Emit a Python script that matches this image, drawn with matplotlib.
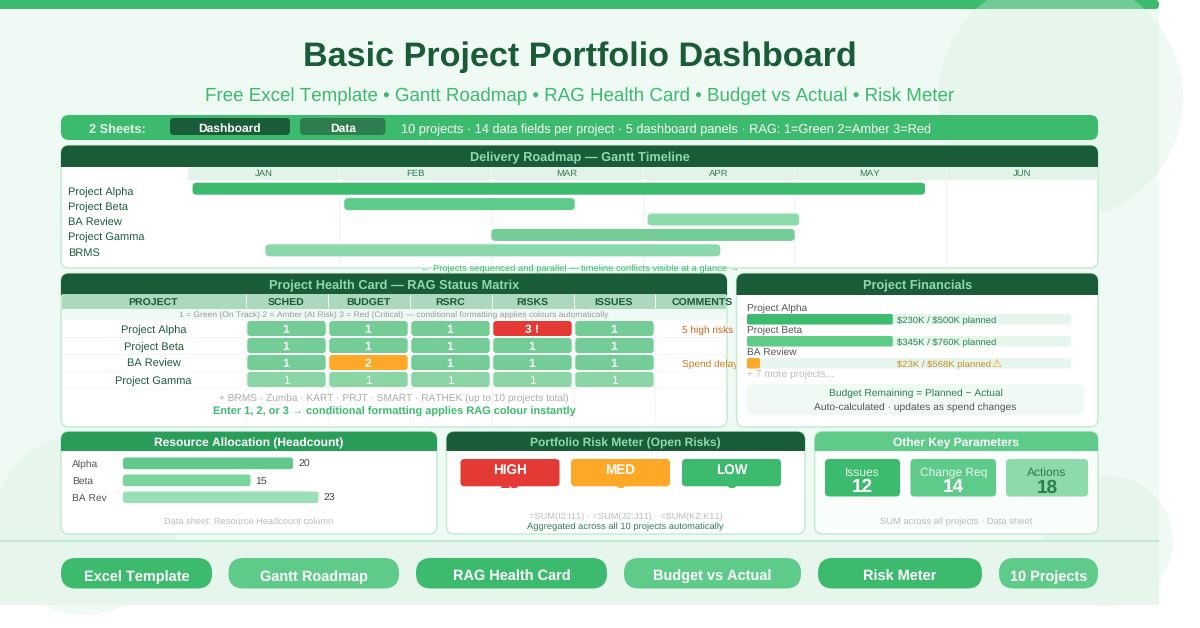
import matplotlib
matplotlib.use("Agg")
import matplotlib.pyplot as plt
from matplotlib.patches import FancyBboxPatch, Rectangle, Circle

# ---------- data ----------
months = ["JAN", "FEB", "MAR", "APR", "MAY", "JUN"]
gantt_projects = ["Project Alpha", "Project Beta", "BA Review", "Project Gamma", "BRMS"]
gantt_start = [0.03, 1.03, 3.03, 2.0, 0.51]
gantt_end = [4.86, 2.55, 4.03, 4.0, 3.51]

health_columns = ["PROJECT", "SCHED", "BUDGET", "RSRC", "RISKS", "ISSUES", "COMMENTS"]
health_projects = ["Project Alpha", "Project Beta", "BA Review", "Project Gamma"]
health_sched = [1, 1, 1, 1]
health_budget = [1, 1, 2, 1]
health_rsrc = [1, 1, 1, 1]
health_risks = [3, 1, 1, 1]
health_issues = [1, 1, 1, 1]
health_comments = ["5 high risks", "", "Spend delay", ""]

fin_projects = ["Project Alpha", "Project Beta", "BA Review"]
fin_spent_pct = [45, 45, 4]
fin_labels = ["$230K / $500K planned", "$345K / $760K planned", "$23K / $568K planned"]

res_names = ["Alpha", "Beta", "BA Rev"]
res_counts = [20, 15, 23]

risk_names = ["HIGH", "MED", "LOW"]
risk_counts = [18, 8, 3]

param_names = ["Issues", "Change Req", "Actions"]
param_values = [12, 14, 18]

tags = ["Excel Template", "Gantt Roadmap", "RAG Health Card", "Budget vs Actual", "Risk Meter", "10 Projects"]

# ---------- palette ----------
G = "#3cba6d"; G2 = "#5ecb8a"; G3 = "#8ddbab"; DK = "#1a5c38"; MID = "#2d7d4e"
PALE = "#e6f6ec"; BG = "#f0faf4"; BORDER = "#bfead0"; AMBER = "#ffa726"; RED = "#e53935"
plt.rcParams["font.family"] = ["Liberation Sans", "DejaVu Sans"]
plt.rcParams["text.hinting"] = "no_hinting"
plt.rcParams["text.kerning_factor"] = 6

fig = plt.figure(figsize=(12, 6.28), dpi=100, facecolor="white")
ax = fig.add_axes([0, 0, 1, 1])
ax.set_xlim(0, 1200); ax.set_ylim(628, 0); ax.axis("off")

_z = [1]
def nz():
    _z[0] += 1
    return _z[0]

def rect(x0, y0, x1, y1, c, alpha=None, clip=None):
    p = Rectangle((x0, y0), x1 - x0, y1 - y0, fc=c, ec="none", alpha=alpha, zorder=nz())
    ax.add_patch(p)
    if clip is not None:
        p.set_clip_path(clip)
    return p

def rr(x0, y0, x1, y1, c, r=4, ec="none", lw=0, alpha=None):
    p = FancyBboxPatch((x0, y0), x1 - x0, y1 - y0, boxstyle=f"round,pad=0,rounding_size={r}",
                       fc=c, ec=ec, lw=lw, alpha=alpha, zorder=nz(), mutation_aspect=1)
    ax.add_patch(p)
    return p

def txt(x, y, s, px, c, ha="center", w="normal", alpha=None):
    return ax.text(x, y, s, fontsize=px * 0.72, color=c, ha=ha, va="center_baseline",
                   fontweight=w, alpha=alpha, zorder=nz(), parse_math=False)

def vline(x, y0, y1, c, lw=1.0):
    ax.plot([x, x], [y0, y1], color=c, lw=lw * 0.72, zorder=nz(), solid_capstyle="butt")

def hline(y, x0, x1, c, lw=1.0):
    ax.plot([x0, x1], [y, y], color=c, lw=lw * 0.72, zorder=nz(), solid_capstyle="butt")

def data_axes(x0, y0, x1, y1, xlim, ylim):
    a = fig.add_axes([x0 / 1200, 1 - y1 / 628, (x1 - x0) / 1200, (y1 - y0) / 628])
    a.set_xlim(*xlim); a.set_ylim(*ylim); a.axis("off"); a.patch.set_alpha(0)
    a.set_zorder(-1)
    return a

def to_px(a, xv, yv):
    return ax.transData.inverted().transform(a.transData.transform((xv, yv)))

def data_bar(a, start, end, row, c, r=3.5, half=0.4):
    x0, y0 = to_px(a, start, row - half)
    x1, y1 = to_px(a, end, row + half)
    return rr(x0, y0, x1, y1, c, r=min(r, (x1 - x0) / 2))

def card(x0, y0, x1, y1, title, head_c, title_c, head_h=21, fs=12.75, face="white"):
    c = rr(x0, y0, x1, y1, face, r=8, ec=BORDER, lw=1.0)
    rect(x0 - 1, y0 - 1, x1 + 1, y0 + head_h, head_c, clip=c)
    txt((x0 + x1) / 2, y0 + head_h / 2 + 0.8, title, fs, title_c, w="bold")
    return c

# ---------- page background ----------
rect(0, 0, 1159, 605, BG)
rr(-20, 0, 1159, 9, G, r=4)
for cx, cy, r in [(1060.5, 98, 122.5), (85, 524, 91), (1108, 541, 65)]:
    ax.add_patch(Circle((cx, cy), r, fc="#d4f0df", ec="none", alpha=0.35, zorder=nz()))
rect(0, 541, 1159, 605, PALE)

# ---------- title ----------
txt(579.5, 54, "Basic Project Portfolio Dashboard", 34.1, DK, w="bold")
txt(579.5, 94.5, "Free Excel Template \u2022 Gantt Roadmap \u2022 RAG Health Card \u2022 Budget vs Actual \u2022 Risk Meter", 18.8, G)

# ---------- strip ----------
rr(61, 115, 1098, 140, G, r=8)
txt(117, 128, "2 Sheets:", 12.7, PALE, w="bold")
rr(170, 118, 290, 135, DK, r=4)
txt(230, 127.7, "Dashboard", 12, "white", w="bold")
rr(300, 118, 385.5, 135, MID, r=4)
txt(343, 127.7, "Data", 12, "white", w="bold")
txt(401, 128.5, "10 projects \u00b7 14 data fields per project \u00b7 5 dashboard panels \u00b7 RAG: 1=Green 2=Amber 3=Red",
    12.75, "white", ha="left")

# ---------- gantt ----------
card(61, 145.5, 1098, 268, "Delivery Roadmap \u2014 Gantt Timeline", DK, G3)
GX0, GX1 = 188, 1098
gx = data_axes(GX0, 181, GX1, 258, (0, len(months)), (len(gantt_projects) - 0.5, -0.5))
rect(GX0, 166.5, GX1, 179.5, "#e2f3ea")
for i, m in enumerate(months):
    x0, _ = to_px(gx, i, 0)
    xc, _ = to_px(gx, i + 0.5, 0)
    if i:
        vline(x0 - 0.5, 166.5, 267, "#ecf7f1", 1)
    txt(xc - 0.5, 172.8, m, 9.5, MID)
gantt_colors = [G, G2, G3, "#74cd96", "#8bd9aa"]
for i, p in enumerate(gantt_projects):
    txt(68.5, 191.5 + i * 15.2, p, 10.95, DK, ha="left")
    data_bar(gx, gantt_start[i], gantt_end[i], i, gantt_colors[i], r=4, half=0.39)
txt(580, 268, "\u2190 Projects sequenced and parallel \u2014 timeline conflicts visible at a glance \u2192", 9.4, G)

# ---------- health card ----------
card(61, 273.5, 727, 427, "Project Health Card \u2014 RAG Status Matrix", DK, G3)
rect(62, 294, 726, 309, "#acd8bd")
col_x = [153, 286, 368, 450, 532, 614, 702]
seps = [245.5, 327.5, 409.5, 491.5, 573.5, 655]
for x in seps:
    vline(x, 294, 426, "#eef7f2", 1)
for x, n in zip(col_x, health_columns):
    txt(x, 302.3, n, 10.5, DK, w="bold")
rect(62, 309, 726, 320, BG)
txt(394, 314.3, "1 = Green (On Track) 2 = Amber (At Risk) 3 = Red (Critical) \u2014 conditional formatting applies colours automatically", 8.5, "#999999")
cols = [health_sched, health_budget, health_rsrc, health_risks, health_issues]
row_y = [321, 338, 355, 372]
for r, name in enumerate(health_projects):
    y = row_y[r]
    hline(y + 16, 63, 725, "#f1f9f4", 1)
    txt(153.5, y + 8.3, name, 11, DK)
    for c, vals in enumerate(cols):
        v = vals[r]
        fc = {1: "#74cd96" if r < 3 else "#8bd5a7", 2: AMBER, 3: RED}[v]
        x0 = col_x[c + 1] - 38.7
        rr(x0, y, x0 + 78.4, y + 15, fc, r=3)
        lab = "3 !" if v == 3 else str(v)
        txt(col_x[c + 1], y + 8, lab, 12, "white", w="bold" if r < 3 else "normal")
    if health_comments[r]:
        txt(682, y + 8.4, health_comments[r], 10.1, "#c9651d" if r == 0 else "#cc7f1c", ha="left")
txt(394, 397, "+ BRMS \u00b7 Zumba \u00b7 KART \u00b7 PRJT \u00b7 SMART \u00b7 RATHEK (up to 10 projects total)", 10.15, "#aaaaaa")
txt(394, 411, "Enter 1, 2, or 3 \u2192 conditional formatting applies RAG colour instantly", 11, G, w="bold")

# ---------- financials ----------
card(736.5, 273.5, 1098, 427, "Project Financials", DK, G3)
fx = data_axes(747, 314, 1071, 369.5, (0, 100), (2.45, -0.3))
fin_colors = [G, G2, AMBER]
fin_text = [MID, MID, "#cc8a1f"]
for i, p in enumerate(fin_projects):
    y = 307 + i * 22
    txt(747, y, p, 10.1, "#555555", ha="left")
    rr(747, y + 7, 1071, y + 17.5, PALE, r=2)
    x1, _ = to_px(fx, fin_spent_pct[i], 0)
    rr(747, y + 7, x1, y + 17.5, fin_colors[i], r=2)
    txt(897, y + 12.7, fin_labels[i], 9.45, fin_text[i], ha="left")
    if i == 2:
        txt(996.5, y + 12.3, "\u26a0", 11, "#e8a317", ha="center")
txt(747, 373.3, "+ 7 more projects...", 10.1, "#bbbbbb", ha="left")
rr(747, 384, 1084, 415, BG, r=6)
txt(915.5, 392.5, "Budget Remaining = Planned \u2212 Actual", 10.2, MID)
txt(915.5, 406.5, "Auto-calculated \u00b7 updates as spend changes", 10.25, "#555555")

# ---------- resources ----------
card(61, 431.7, 437, 534, "Resource Allocation (Headcount)", "#2b9d5b", "white", head_h=19, fs=12)
rx = data_axes(123, 455, 378, 506, (0, 30), (2.5, -0.5))
res_colors = ["#62c98c", "#7bd69d", "#9ae0b6"]
for i, n in enumerate(res_names):
    y = 463.5 + i * 17
    txt(72, y, n, 10.2, "#555555", ha="left")
    x0, _ = to_px(rx, 0, 0)
    x1, _ = to_px(rx, res_counts[i], 0)
    rr(x0, y - 6, x1, y + 5.7, res_colors[i], r=2.5)
    txt(x1 + 5, y, str(res_counts[i]), 10.5, "#444444", ha="left")
txt(249, 520.7, "Data sheet: Resource Headcount column", 9.3, "#bbbbbb")

# ---------- risk meter ----------
card(446.5, 431.7, 805, 534, "Portfolio Risk Meter (Open Risks)", DK, G3, head_h=19, fs=12)
risk_x = [460.5, 571, 682]
risk_c = [RED, AMBER, G]
for x, c, n, v in zip(risk_x, risk_c, risk_names, risk_counts):
    txt(x + 49.5, 481.5, str(v), 18, c, w="bold")
for x, c, n in zip(risk_x, risk_c, risk_names):
    rr(x, 459, x + 99, 486.3, c, r=4)
    txt(x + 49.5, 469, n, 13.5, "white", w="bold")
txt(625.5, 516.3, "=SUM(I2:I11) \u00b7 =SUM(J2:J11) \u00b7 =SUM(K2:K11)", 9.25, "#bbbbbb")
txt(625.5, 526, "Aggregated across all 10 projects automatically", 9.4, MID)

# ---------- other parameters ----------
card(814.7, 431.7, 1098, 534, "Other Key Parameters", G2, "white", head_h=19, fs=12, face="#f9fdfb")
tile_x = [(825, 900), (910.5, 996), (1006, 1088)]
tile_c = [G, G2, G3]
lab_c = [PALE, PALE, MID]
num_c = ["white", "white", MID]
for (x0, x1), c, n, v, lc, nc in zip(tile_x, tile_c, param_names, param_values, lab_c, num_c):
    rr(x0, 459, x1, 496.5, c, r=4)
    txt((x0 + x1) / 2, 472, n, 12, lc)
    txt((x0 + x1) / 2, 485.5, str(v), 19, nc, w="bold")
txt(956, 520.7, "SUM across all projects \u00b7 Data sheet", 9.4, "#bbbbbb")

# ---------- footer ----------
hline(541, 0, 1159, BORDER, 2)
tag_x = [(61, 212), (228.5, 399), (416, 607), (624, 801), (818, 982), (999, 1098)]
tag_c = [G, G2, G, G2, G, G2]
for (x0, x1), c, t in zip(tag_x, tag_c, tags):
    rr(x0, 558, x1, 588.5, c, r=15)
    txt((x0 + x1) / 2, 575, t, 14.5, "white", w="bold")

fig.savefig("out.png", dpi=100)
